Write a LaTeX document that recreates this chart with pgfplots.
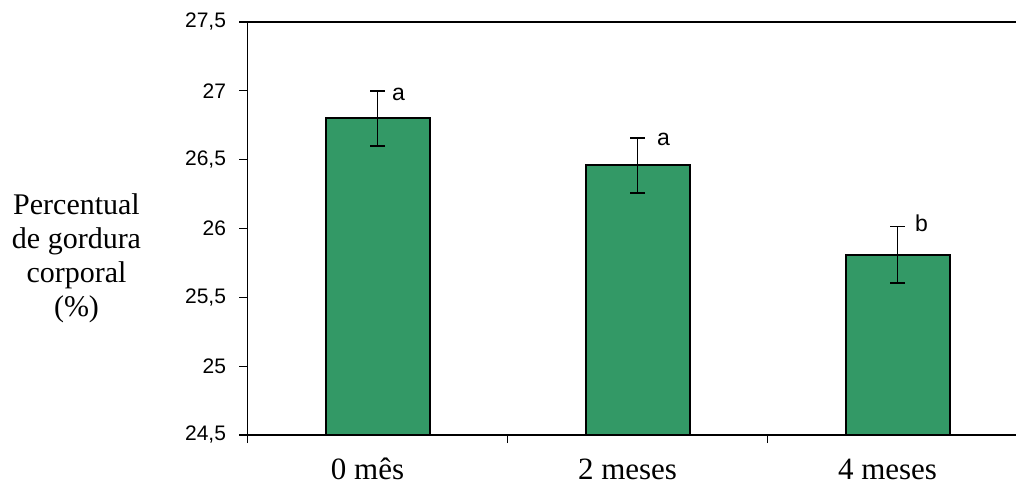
\documentclass[border=0pt]{standalone}
\usepackage{fontspec}
\setmainfont{Liberation Serif}
\setsansfont{Liberation Sans}
\usepackage{pgfplots}
\pgfplotsset{compat=1.18}
\definecolor{bargreen}{RGB}{51,153,102}
\begin{document}
\begin{tikzpicture}
\useasboundingbox (0,0) rectangle (1016pt,484pt);
\begin{axis}[
  name=ax,
  at={(247.5pt,49pt)}, anchor=south west,
  scale only axis, width=780pt, height=413pt,
  xmin=-0.5, xmax=2.5, ymin=24.5, ymax=27.5,
  axis x line=bottom, axis y line=left,
  axis line style={line width=1.3pt, -, black},
  tick align=outside,
  ytick={24.5,25,25.5,26,26.5,27,27.5},
  yticklabel style={font=\fontsize{21}{25}\selectfont\sffamily, xshift=-10pt, /pgf/number format/use comma, /pgf/number format/assume math mode=true},
  xtick={0,1,2}, xticklabels={0 mês, 2 meses, 4 meses},
  xticklabel style={font=\fontsize{31}{35}\selectfont, anchor=base, yshift=-36pt, xshift=-10pt},
  major x tick style={draw=none},
  minor xtick={-0.5,0.5,1.5,2.5},
  major tick length=8pt, minor tick length=8pt,
  tick style={line width=1.3pt, black},
  ylabel={Percentual\\de gordura\\corporal\\(\%)},
  every axis y label/.style={at={(rel axis cs:0,0.5)}, anchor=center, xshift=-171pt, yshift=-30pt, align=center, font=\fontsize{30}{34}\selectfont},
]
\addplot[ybar, bar width=104pt, fill=bargreen, draw=black, line width=2pt,
  error bars/.cd, y dir=both, y explicit,
  error bar style={line width=1.8pt, black},
  error mark options={rotate=90, mark size=7.5pt, line width=1.8pt, black}]
  coordinates {(0,26.80) +- (0,0.20) (1,26.46) +- (0,0.20) (2,25.81) +- (0,0.205)};
\node[anchor=base west, inner sep=0pt, font=\fontsize{23}{27}\selectfont\sffamily] at (axis cs:0.055,26.933) {a};
\node[anchor=base west, inner sep=0pt, font=\fontsize{23}{27}\selectfont\sffamily] at (axis cs:1.075,26.606) {a};
\node[anchor=base west, inner sep=0pt, font=\fontsize{23}{27}\selectfont\sffamily] at (axis cs:2.067,25.975) {b};
\end{axis}
\draw[line width=1.3pt] (ax.north west) -- (ax.north east);
\end{tikzpicture}
\end{document}
